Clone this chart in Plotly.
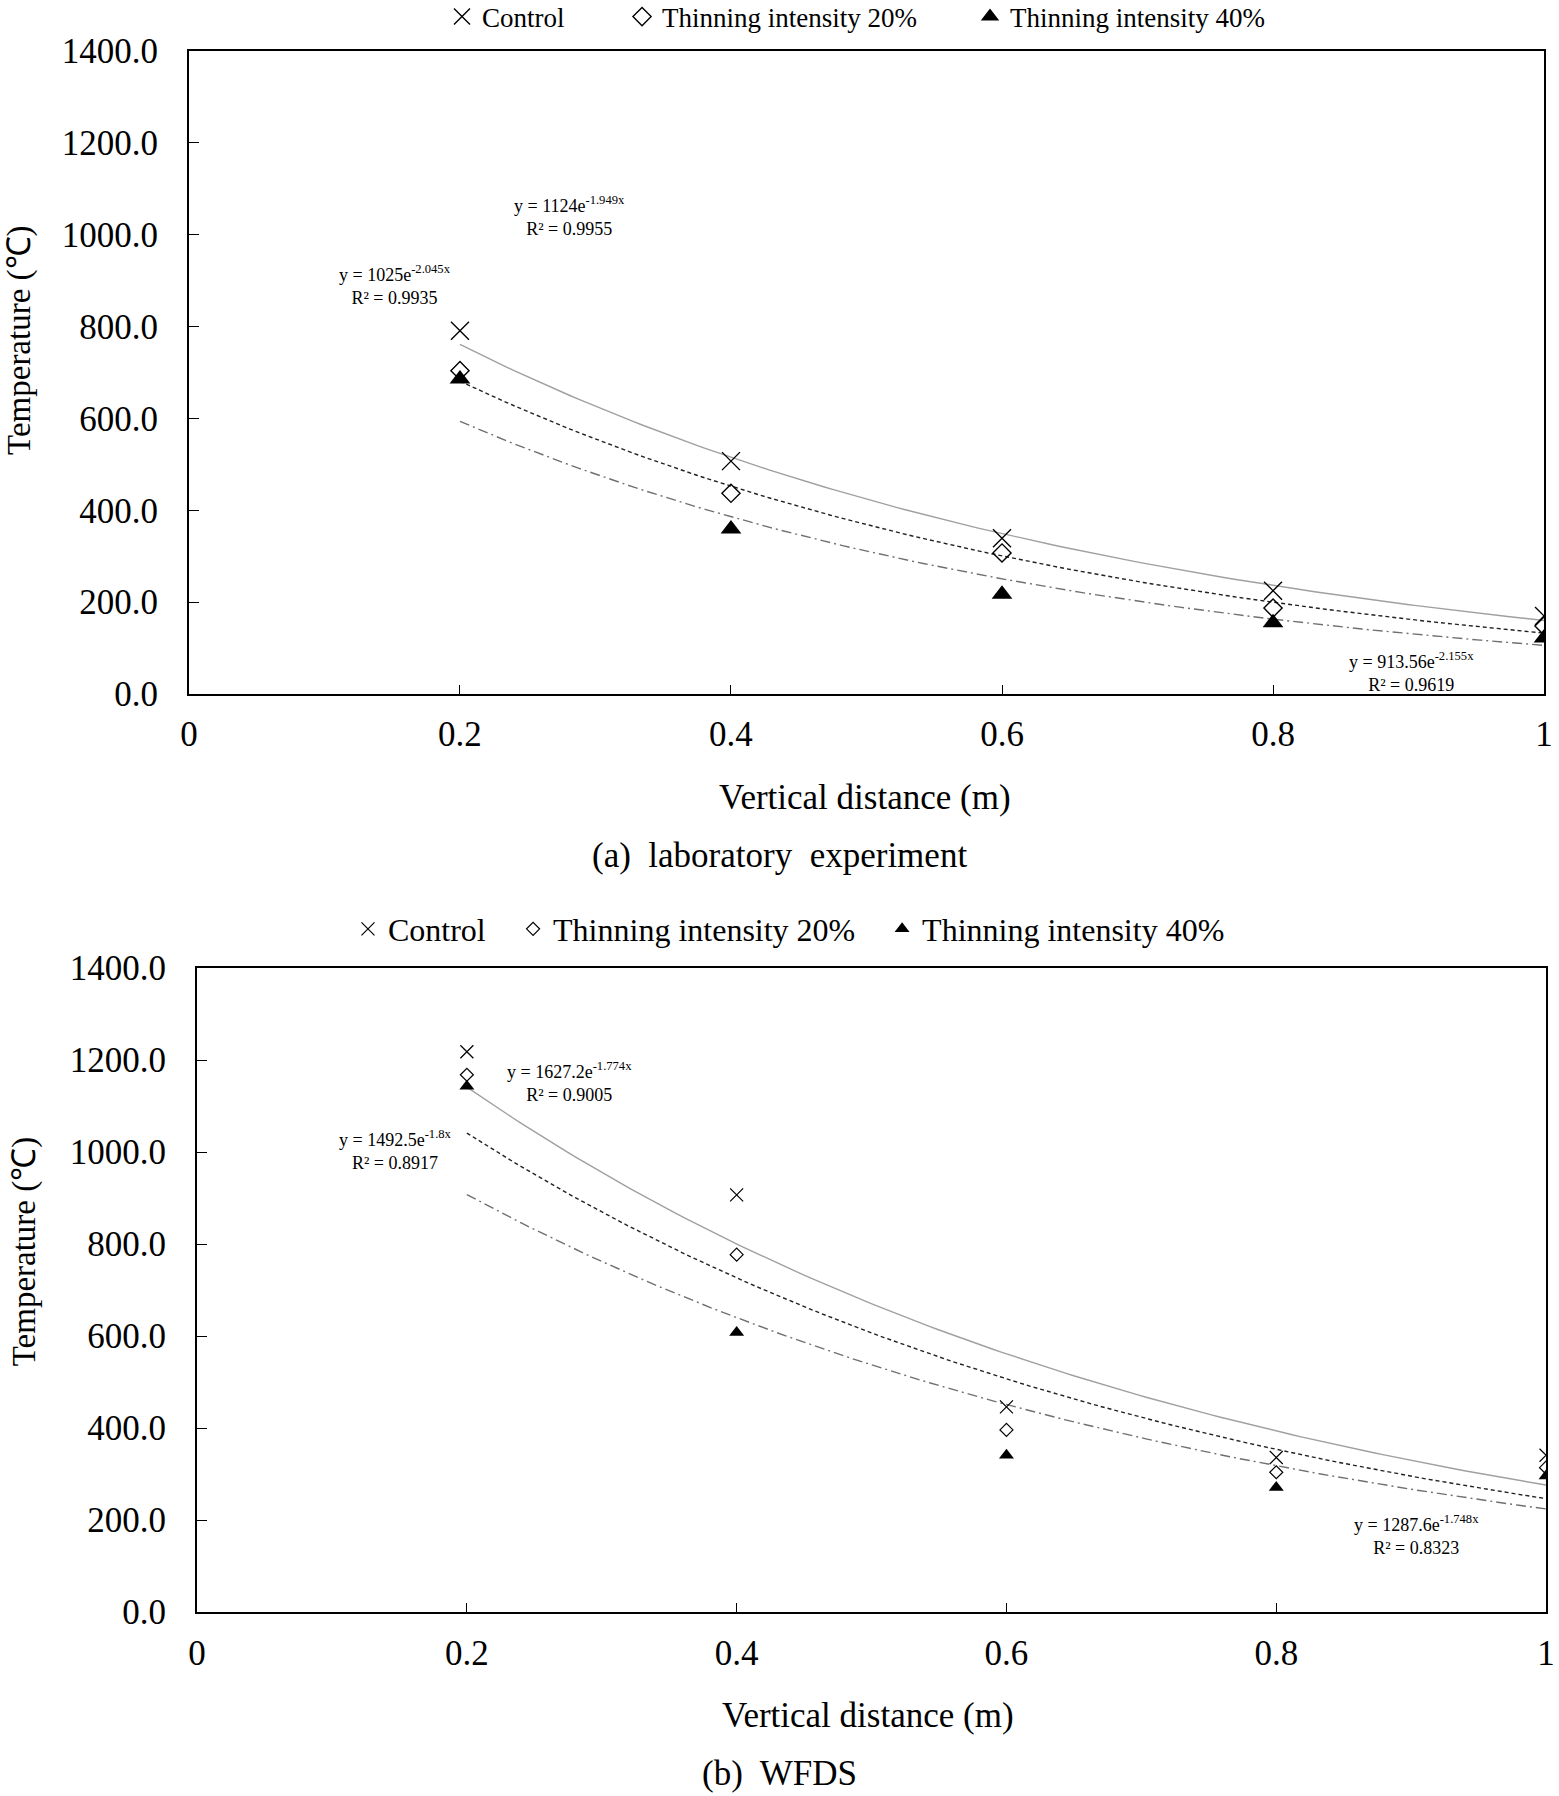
import numpy as np
import plotly.graph_objects as go

# ---------------- data ----------------
distance = [0.2, 0.4, 0.6, 0.8, 1.0]
series_names = ["Control", "Thinning intensity 20%", "Thinning intensity 40%"]

lab_control = [791, 507, 339, 225, 170]
lab_thin20 = [704, 437, 307, 187, 148]
lab_thin40 = [686, 359, 217, 155, 122]

wfds_control = [1218, 907, 446, 336, 341]
wfds_thin20 = [1168, 777, 396, 304, 314]
wfds_thin40 = [1143, 608, 341, 271, 296]

# exponential trendline coefficients (y = a * exp(b x)) and R² as printed
lab_fit_a = [1124, 1025, 913.56]
lab_fit_b = [-1.949, -2.045, -2.155]
lab_fit_r2 = ["0.9955", "0.9935", "0.9619"]
lab_fit_label_a = ["1124", "1025", "913.56"]
lab_fit_label_b = ["-1.949", "-2.045", "-2.155"]

wfds_fit_a = [1627.2, 1492.5, 1287.6]
wfds_fit_b = [-1.774, -1.8, -1.748]
wfds_fit_r2 = ["0.9005", "0.8917", "0.8323"]
wfds_fit_label_a = ["1627.2", "1492.5", "1287.6"]
wfds_fit_label_b = ["-1.774", "-1.8", "-1.748"]

x_tick_vals = [0, 0.2, 0.4, 0.6, 0.8, 1.0]
x_tick_text = ["0", "0.2", "0.4", "0.6", "0.8", "1"]
y_tick_vals = [0, 200, 400, 600, 800, 1000, 1200, 1400]

# ---------------- styling ----------------
FONT = "Liberation Serif, Times New Roman, serif"
sym = ["x-thin-open", "diamond-open", "triangle-up"]
line_styles = [
    dict(color="#a0a0a0", width=1.4, dash="solid"),
    dict(color="#222222", width=1.4, dash="4px,3px"),
    dict(color="#707070", width=1.4, dash="10px,4px,2px,4px"),
]

fig = go.Figure()

panels = [
    dict(xa="x", ya="y", legends=["legend", "legend2", "legend3"],
         data=[lab_control, lab_thin20, lab_thin40],
         a=lab_fit_a, b=lab_fit_b, r2=lab_fit_r2, la=lab_fit_label_a, lb=lab_fit_label_b,
         msize=[18, 14, 18], mline=[1.4, 1.4, 0],
         eqpos=[(0.281, 1040), (0.152, 890), (0.902, 48)]),
    dict(xa="x2", ya="y2", legends=["legend4", "legend5", "legend6"],
         data=[wfds_control, wfds_thin20, wfds_thin40],
         a=wfds_fit_a, b=wfds_fit_b, r2=wfds_fit_r2, la=wfds_fit_label_a, lb=wfds_fit_label_b,
         msize=[13, 10, 13], mline=[1.2, 1.2, 0],
         eqpos=[(0.276, 1152), (0.147, 1004), (0.904, 168)]),
]

xfit = np.linspace(distance[0], distance[-1], 120)
annotations = []
for p in panels:
    for i, name in enumerate(series_names):
        yfit = p["a"][i] * np.exp(p["b"][i] * xfit)
        fig.add_trace(go.Scatter(
            x=xfit, y=yfit, mode="lines", line=line_styles[i],
            xaxis=p["xa"], yaxis=p["ya"], showlegend=False, hoverinfo="skip"))
    for i, name in enumerate(series_names):
        fig.add_trace(go.Scatter(
            x=distance, y=p["data"][i], mode="markers", name=name,
            xaxis=p["xa"], yaxis=p["ya"], legend=p["legends"][i],
            marker=dict(symbol=sym[i], size=p["msize"][i], color="black",
                        line=dict(color="black", width=p["mline"][i]))))
    for i in range(3):
        ex, ey = p["eqpos"][i]
        annotations.append(dict(
            x=ex, y=ey, xref=p["xa"], yref=p["ya"], showarrow=False,
            text=f"y = {p['la'][i]}e<sup>{p['lb'][i]}x</sup><br>R² = {p['r2'][i]}",
            font=dict(family=FONT, size=18, color="black"), align="center"))

axis_common = dict(showline=True, linecolor="black", linewidth=2, mirror=True,
                   ticks="inside", tickcolor="black", showgrid=False, zeroline=False,
                   tickfont=dict(family=FONT, size=35, color="black"))


def legend_box(x, y, size):
    return dict(orientation="h", x=x, xanchor="left", y=y, yanchor="middle",
                font=dict(family=FONT, size=size, color="black"),
                bgcolor="rgba(0,0,0,0)", itemwidth=30)


fig.update_layout(
    width=1559, height=1796,
    margin=dict(l=0, r=0, t=0, b=0, autoexpand=False),
    paper_bgcolor="white", plot_bgcolor="white",
    xaxis=dict(domain=[0.1212, 0.9904], anchor="y", range=[0, 1],
               tickvals=x_tick_vals, ticktext=x_tick_text, ticklen=9,
               ticklabelstandoff=8, **axis_common),
    yaxis=dict(domain=[0.6136, 0.9716], anchor="x", range=[0, 1400],
               tickvals=y_tick_vals, tickformat=".1f", ticklen=10,
               ticklabelstandoff=22, **axis_common),
    xaxis2=dict(domain=[0.1264, 0.9917], anchor="y2", range=[0, 1],
                tickvals=x_tick_vals, ticktext=x_tick_text, ticklen=9,
                ticklabelstandoff=9, **axis_common),
    yaxis2=dict(domain=[0.1024, 0.4610], anchor="x2", range=[0, 1400],
                tickvals=y_tick_vals, tickformat=".1f", ticklen=10,
                ticklabelstandoff=22, **axis_common),
    legend=legend_box(0.2835, 0.9905, 27),
    legend2=legend_box(0.3990, 0.9905, 27),
    legend3=legend_box(0.6222, 0.9905, 27),
    legend4=legend_box(0.2232, 0.4827, 32),
    legend5=legend_box(0.3291, 0.4827, 32),
    legend6=legend_box(0.5658, 0.4827, 32),
    showlegend=True,
)

title_font = dict(family=FONT, size=35, color="black")
ytitle_font = dict(family=FONT, size=33, color="black")
annotations += [
    dict(text="Temperature (℃)", x=0.0128, y=0.8107, xref="paper", yref="paper",
         textangle=-90, showarrow=False, font=ytitle_font, xanchor="center", yanchor="middle"),
    dict(text="Vertical distance (m)", x=0.555, y=0.5557, xref="paper", yref="paper",
         showarrow=False, font=title_font, xanchor="center", yanchor="middle"),
    dict(text="(a)  laboratory  experiment", x=0.5003, y=0.5234, xref="paper", yref="paper",
         showarrow=False, font=title_font, xanchor="center", yanchor="middle"),
    dict(text="Temperature (℃)", x=0.0155, y=0.3034, xref="paper", yref="paper",
         textangle=-90, showarrow=False, font=ytitle_font, xanchor="center", yanchor="middle"),
    dict(text="Vertical distance (m)", x=0.557, y=0.0451, xref="paper", yref="paper",
         showarrow=False, font=title_font, xanchor="center", yanchor="middle"),
    dict(text="(b)  WFDS", x=0.4997, y=0.0128, xref="paper", yref="paper",
         showarrow=False, font=title_font, xanchor="center", yanchor="middle"),
]
fig.update_layout(annotations=annotations)

fig.write_html("out.html")
